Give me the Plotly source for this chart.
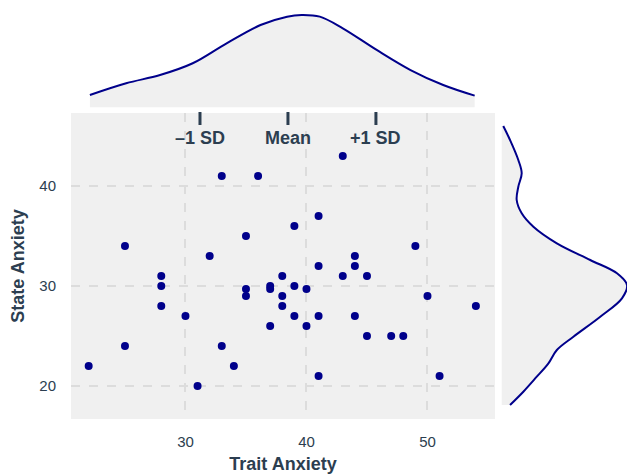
import plotly.graph_objects as go

# --- Data ---
trait = [22, 25, 25, 28, 28, 28, 30, 31, 32, 33, 33, 34, 35, 35, 35, 36, 37, 37, 37,
         38, 38, 38, 39, 39, 39, 40, 40, 41, 41, 41, 41, 43, 43, 44, 44, 44, 45, 45,
         47, 48, 49, 50, 51, 54]
state = [22, 34, 24, 31, 30, 28, 27, 20, 33, 41, 24, 22, 35, 29.7, 29, 41, 30, 29.7, 26,
         31, 29, 28, 36, 30, 27, 29.7, 26, 37, 32, 27, 21, 43, 31, 33, 32, 27, 31, 25,
         25, 25, 34, 29, 21, 28]

# marginal density of trait anxiety (relative to its peak)
top_dens_x = [22.1, 25.1, 27.9, 30.6, 33.4, 36.2, 38.4, 39.6, 41.1, 43.0, 45.8, 48.6, 51.3, 53.9]
top_dens_y = [0.135, 0.262, 0.351, 0.478, 0.694, 0.892, 0.982, 1.0, 0.982, 0.856, 0.622,
              0.405, 0.243, 0.128]

# marginal density of state anxiety (relative to its peak)
right_dens_y = [46.0, 44.6, 42.6, 41.27, 39.93, 38.6, 37.27, 35.93, 34.27, 32.6, 31.27,
                30.1, 28.77, 26.93, 24.93, 23.6, 22.27, 20.93, 19.43, 18.1]
right_dens_x = [0.014, 0.068, 0.134, 0.161, 0.134, 0.121, 0.161, 0.254, 0.441, 0.707,
                0.920, 1.0, 0.960, 0.787, 0.573, 0.441, 0.374, 0.281, 0.174, 0.068]

ref_labels = ["\u20131 SD", "Mean", "+1 SD"]
ref_x = [31.2, 38.47, 45.74]

x_ticks = [30, 40, 50]
y_ticks = [20, 30, 40]

NAVY = "#00008b"
TXT = "#2c3e50"
BG = "#f0f0f0"
FONT = "Liberation Sans, Arial, sans-serif"

fig = go.Figure()

fig.add_trace(go.Scatter(x=trait, y=state, mode="markers",
                         marker=dict(color=NAVY, size=8),
                         xaxis="x", yaxis="y", showlegend=False))

fig.add_trace(go.Scatter(x=top_dens_x, y=top_dens_y, mode="lines",
                         line=dict(color=NAVY, width=2, shape="spline"),
                         fill="tozeroy", fillcolor=BG,
                         xaxis="x2", yaxis="y2", showlegend=False))

fig.add_trace(go.Scatter(x=right_dens_x, y=right_dens_y, mode="lines",
                         line=dict(color=NAVY, width=2, shape="spline"),
                         fill="tozerox", fillcolor=BG,
                         xaxis="x3", yaxis="y3", showlegend=False))

W, H = 627, 474


def fx(p):
    return p / W


def fy(p):
    return (H - p) / H


main_x = [fx(71), fx(495)]
main_y = [fy(419), fy(113)]
top_y = [fy(107.5), fy(0)]
right_x = [fx(501.5), fx(627)]

xr = [20.54, 55.58]
yr = [16.7, 47.3]

grid = dict(showgrid=True, gridcolor="#dcdcdc", gridwidth=2, griddash="dash",
            zeroline=False, showline=False)

annotations = []
shapes = [dict(type="rect", xref="x domain", yref="y domain", x0=0, x1=1, y0=0, y1=1,
               fillcolor=BG, line=dict(width=0), layer="below")]
for lab, xv in zip(ref_labels, ref_x):
    shapes.append(dict(type="line", xref="x", yref="paper", x0=xv, x1=xv,
                       y0=fy(112), y1=fy(125),
                       line=dict(color=TXT, width=3)))
    annotations.append(dict(x=xv, xref="x", y=fy(126), yref="paper",
                            text="<b>" + lab + "</b>", showarrow=False,
                            yanchor="top", xanchor="center",
                            font=dict(size=18, color=TXT, family=FONT)))

fig.update_layout(
    width=W, height=H,
    margin=dict(l=0, r=0, t=0, b=0),
    paper_bgcolor="white", plot_bgcolor="white",
    font=dict(family=FONT, color=TXT, size=15),
    xaxis=dict(domain=main_x, range=xr, tickvals=x_ticks, ticks="outside", ticklen=9,
               tickcolor="rgba(0,0,0,0)", automargin=False,
               title=dict(text="<b>Trait Anxiety</b>", font=dict(size=18, color=TXT), standoff=10),
               **grid),
    yaxis=dict(domain=main_y, range=yr, tickvals=y_ticks, ticks="outside", ticklen=11,
               tickcolor="rgba(0,0,0,0)", automargin=False,
               title=dict(text="<b>State Anxiety</b>", font=dict(size=18, color=TXT), standoff=10),
               **grid),
    xaxis2=dict(domain=main_x, range=xr, matches="x", visible=False),
    yaxis2=dict(domain=top_y, range=[0, 1.162], visible=False),
    xaxis3=dict(domain=right_x, range=[0, 1.0], visible=False),
    yaxis3=dict(domain=main_y, range=yr, matches="y", visible=False),
    shapes=shapes,
    annotations=annotations,
)

fig.write_html("out.html",
               config={"displayModeBar": False},
               post_script="document.body.style.margin='0px';document.body.style.overflow='hidden';")
